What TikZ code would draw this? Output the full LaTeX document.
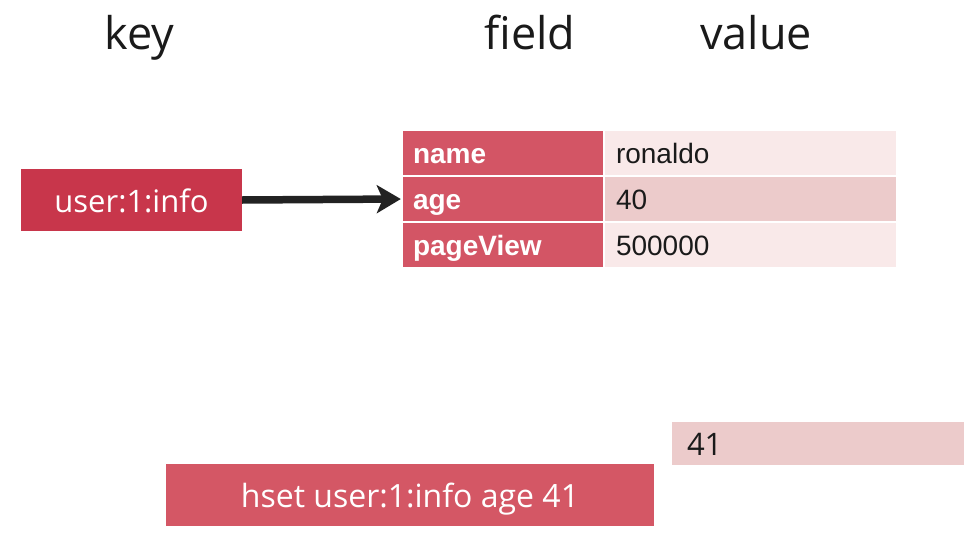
\documentclass[tikz,border=0pt]{standalone}
\usepackage{fontspec}
\setmainfont{Open Sans}
\newfontfamily\tabfont{Liberation Sans}
\usetikzlibrary{arrows.meta}
\definecolor{keyred}{HTML}{C8364B}
\definecolor{fieldred}{HTML}{D35565}
\definecolor{cmdred}{HTML}{D45765}
\definecolor{lightpink}{HTML}{F9E9E9}
\definecolor{midpink}{HTML}{ECCBCB}
\definecolor{inktext}{HTML}{1A1A1A}
\definecolor{arrowink}{HTML}{222222}
\begin{document}
\begin{tikzpicture}[x=1pt,y=-1pt,
  header/.style={anchor=base,inner sep=0,text=inktext,font=\fontsize{45}{54}\selectfont},
  keybox/.style={fill=keyred,text=white,inner sep=0,minimum width=221,minimum height=62,
    text height=24,text depth=0,font=\fontsize{31}{36}\selectfont},
  fieldcell/.style={fill=fieldred,text=white,minimum width=200,minimum height=44,inner ysep=0,
    inner xsep=10,text width=180,align=left,text height=20,text depth=0,
    font=\tabfont\bfseries\fontsize{28}{32}\selectfont},
  valuecell/.style={fill=lightpink,text=inktext,minimum width=291,minimum height=44,inner ysep=0,
    inner xsep=11,text width=269,align=left,text height=20,text depth=0,
    font=\tabfont\fontsize{28}{32}\selectfont},
  newvalue/.style={fill=midpink,text=inktext,minimum width=292,minimum height=43,inner ysep=0,
    inner xsep=15,text width=262,align=left,text height=23,text depth=0,
    font=\fontsize{31}{36}\selectfont},
  cmdbox/.style={fill=cmdred,text=white,inner sep=0,minimum width=488,minimum height=62,
    text height=24,text depth=0,font=\fontsize{32}{38}\selectfont},
  arrowline/.style={draw=arrowink,line width=7.5,-{Stealth[length=24pt,width=28pt,inset=6pt]},shorten >=2}
]
\useasboundingbox (0,0) rectangle (971,535);
\fill[white] (0,0) rectangle (971,535);

\node[header] (hkey) at (139.5,49) {key};
\node[header] (hfield) at (530,49) {field};
\node[header] (hvalue) at (756,49) {value};

\node[keybox] (key) at (131.5,200) {user:1:info};

\node[fieldcell] (fname) at (503,153) {name};
\node[fieldcell] (fage) at (503,199) {age};
\node[fieldcell] (fpv) at (503,245) {pageView};

\node[valuecell] (vname) at (750.5,153) {ronaldo};
\node[valuecell,fill=midpink] (vage) at (750.5,199) {40};
\node[valuecell] (vpv) at (750.5,245) {500000};

\draw[arrowline] (key.east) -- (fage.west);

\node[newvalue] (nv) at (818,443.5) {41};
\node[cmdbox] (cmd) at (410,495) {hset user:1:info age 41};
\end{tikzpicture}
\end{document}
